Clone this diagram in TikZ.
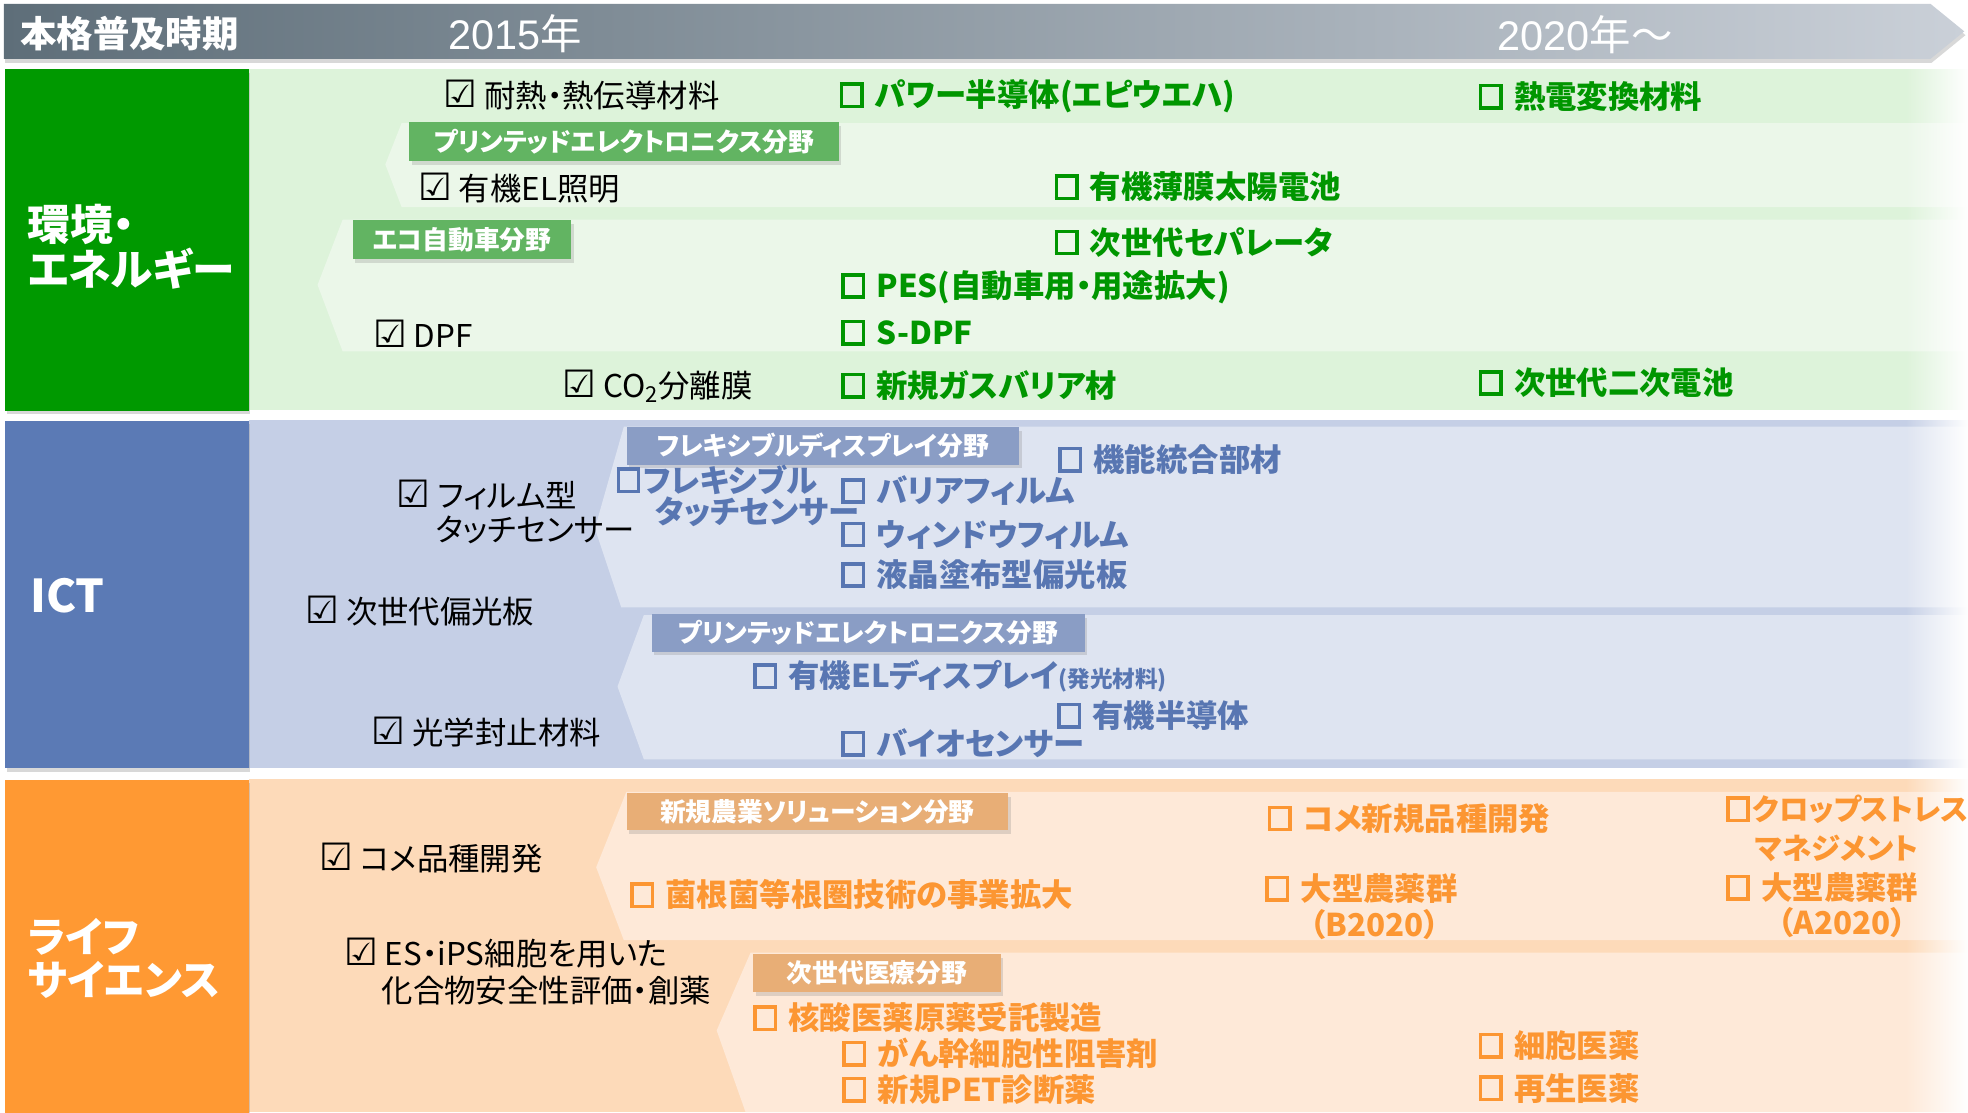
\documentclass[tikz,border=0pt]{standalone}
\usepackage{fontspec}
\newfontfamily\jp[RawFeature=+palt]{Noto Sans CJK JP}
\newfontfamily\dv{DejaVu Sans}
\newfontfamily\yr{Liberation Sans}
\usetikzlibrary{fadings,shadows}
\definecolor{barL}{RGB}{94,110,121}
\definecolor{barR}{RGB}{202,208,216}
\definecolor{gBox}{RGB}{0,153,0}
\definecolor{gBand}{RGB}{221,243,218}
\definecolor{gGrp}{RGB}{235,247,233}
\definecolor{gTag}{RGB}{98,180,98}
\definecolor{gTxt}{RGB}{0,150,0}
\definecolor{bBox}{RGB}{91,122,181}
\definecolor{bBand}{RGB}{197,207,230}
\definecolor{bGrp}{RGB}{222,228,241}
\definecolor{bTag}{RGB}{138,157,197}
\definecolor{bTxt}{RGB}{88,118,178}
\definecolor{oBox}{RGB}{255,153,51}
\definecolor{oBand}{RGB}{253,218,185}
\definecolor{oGrp}{RGB}{254,233,216}
\definecolor{oTag}{RGB}{232,174,118}
\definecolor{oTxt}{RGB}{252,150,50}
\tikzfading[name=fadeR, left color=transparent!100, right color=transparent!0]
\newcommand\chk{{\dv\fontsize{30}{30}\selectfont ☑}}
% open square (text box glyph) built from rules, in the current colour
\newcommand\obx{\raisebox{-1pt}{\vbox{\hrule height 2.8pt\hbox{\vrule width 2.8pt height 15pt\hskip 13.5pt\vrule width 2.8pt}\hrule height 2.8pt}}}
\newcommand\osp{\hspace{9pt}}
\begin{document}
\begin{tikzpicture}[x=1pt,y=-1pt,
  every node/.style={inner sep=0pt},
  blk/.style={anchor=west, text=black, font=\jp\fontsize{25}{30}\selectfont},
  itm/.style={anchor=west, text=#1, font=\jp\bfseries\fontsize{25}{30}\selectfont},
  tagbox/.style={anchor=north west, fill=#1, text=white, font=\jp\bfseries\fontsize{20.5}{22}\selectfont,
    drop shadow={opacity=0.25, shadow xshift=2pt, shadow yshift=-3pt}},
  sidebox/.style={anchor=north west, fill=#1, minimum width=194pt,
    drop shadow={opacity=0.3, shadow xshift=1pt, shadow yshift=-3pt}},
  sidetxt/.style={anchor=west, text=white, font=\jp\bfseries\fontsize{34}{36}\selectfont},
  yeartxt/.style={anchor=west, text=white, font=\yr\fontsize{33}{36}\selectfont},
]
\useasboundingbox (0,0) rectangle (1568,886);
\fill[white] (0,0) rectangle (1568,886);

% ---------- top bar ----------
\path[left color=barL, right color=barR, drop shadow={opacity=0.3, shadow xshift=1pt, shadow yshift=-3pt}]
  (3,3) -- (1538,3) -- (1565,25) -- (1538,47) -- (3,47) -- cycle;
\node[anchor=west, text=white, font=\jp\bfseries\fontsize{29}{32}\selectfont] (bar) at (16,27) {本格普及時期};
\node[yeartxt] (y2015) at (357,27) {2015{\jp 年}};
\node[yeartxt] (y2020) at (1193,28) {2020{\jp 年～}};

% ---------- bands ----------
\fill[gBand] (198,55) rectangle (1568,327);
\fill[bBand] (198,335) rectangle (1568,612);
\fill[oBand] (198,621) rectangle (1568,886);

% groups (chevrons)
\fill[gGrp] (320,98) -- (1568,98) -- (1568,165) -- (320,165) -- (307,131) -- cycle;
\fill[gGrp] (273,175) -- (1568,175) -- (1568,280) -- (273,280) -- (253,227) -- cycle;
\fill[bGrp] (497,340) -- (1568,340) -- (1568,484) -- (495,484) -- (474,421) -- cycle;
\fill[bGrp] (513,490) -- (1568,490) -- (1568,605) -- (513,605) -- (492,547) -- cycle;
\fill[oGrp] (499,631) -- (1568,631) -- (1568,749) -- (497,749) -- (475,691) -- cycle;
\fill[oGrp] (598,759) -- (1568,759) -- (1568,886) -- (594,886) -- (571,821) -- cycle;

% right-edge fade
\fill[white, path fading=fadeR] (1518,50) rectangle (1568,886);

% ---------- side boxes ----------
\node[sidebox=gBox, minimum height=272pt] (envbox) at (4,55) {};
\node[sidebox=bBox, minimum height=277pt] (ictbox) at (4,335) {};
\node[sidebox=oBox, minimum height=266pt] (lifebox) at (4,621) {};
\node[sidetxt] (env1) at (22,179) {環境・};
\node[sidetxt] (env2) at (22,214) {エネルギー};
\node[sidetxt, font=\jp\bfseries\fontsize{36}{40}\selectfont] (ict) at (24,475) {ICT};
\node[sidetxt, font=\jp\bfseries\fontsize{33}{36}\selectfont] (life1) at (22,746) {ライフ};
\node[sidetxt, font=\jp\bfseries\fontsize{33}{36}\selectfont] (life2) at (22,781) {サイエンス};

% ---------- tags ----------
\node[tagbox=gTag, minimum width=342pt, minimum height=31pt] (tgpe) at (326,97) {プリンテッドエレクトロニクス分野};
\node[tagbox=gTag, minimum width=174pt, minimum height=31pt] (tgeco) at (281,175) {エコ自動車分野};
\node[tagbox=bTag, minimum width=313pt, minimum height=30pt] (tbfd) at (499,340) {フレキシブルディスプレイ分野};
\node[tagbox=bTag, minimum width=345pt, minimum height=30pt] (tbpe) at (519,489) {プリンテッドエレクトロニクス分野};
\node[tagbox=oTag, minimum width=304pt, minimum height=29pt] (toag) at (499,632) {新規農業ソリューション分野};
\node[tagbox=oTag, minimum width=197pt, minimum height=30pt] (tomd) at (600,760) {次世代医療分野};

% ---------- environment items ----------
\node[blk] (g1) at (353,76) {\chk~耐熱・熱伝導材料};
\node[itm=gTxt] (g2) at (669,77) {\obx\osp パワー半導体(エピウエハ)};
\node[itm=gTxt] (g3) at (1178,77) {\obx\osp 熱電変換材料};
\node[blk] (g4) at (333,150) {\chk~有機EL照明};
\node[itm=gTxt] (g5) at (840,149) {\obx\osp 有機薄膜太陽電池};
\node[itm=gTxt] (g6) at (840,193) {\obx\osp 次世代セパレータ};
\node[itm=gTxt] (g7) at (670,229) {\obx\osp PES(自動車用・用途拡大)};
\node[blk] (g8) at (297,266) {\chk~DPF};
\node[itm=gTxt] (g9) at (670,265) {\obx\osp S-DPF};
\node[blk] (g10) at (448,308) {\chk~CO\textsubscript{2}分離膜};
\node[itm=gTxt] (g11) at (670,307) {\obx\osp 新規ガスバリア材};
\node[itm=gTxt] (g12) at (1178,305) {\obx\osp 次世代二次電池};

% ---------- ICT items ----------
\node[blk] (b1) at (316,394) {\chk~フィルム型};
\node[blk] (b1b) at (347,422) {タッチセンサー};
\node[itm=bTxt] (b2) at (491,382) {\obx\hspace{2pt}フレキシブル};
\node[itm=bTxt] (b2b) at (522,408) {タッチセンサー};
\node[itm=bTxt] (b3) at (843,366) {\obx\osp 機能統合部材};
\node[itm=bTxt] (b4) at (670,391) {\obx\osp バリアフィルム};
\node[itm=bTxt] (b5) at (670,426) {\obx\osp ウィンドウフィルム};
\node[itm=bTxt] (b6) at (670,458) {\obx\osp 液晶塗布型偏光板};
\node[blk] (b7) at (243,487) {\chk~次世代偏光板};
\node[itm=bTxt] (b8) at (600,539) {\obx\osp 有機ELディスプレイ{\fontsize{18}{20}\selectfont(発光材料)}};
\node[itm=bTxt] (b9) at (842,570) {\obx\osp 有機半導体};
\node[blk] (b10) at (296,583) {\chk~光学封止材料};
\node[itm=bTxt] (b11) at (670,592) {\obx\osp バイオセンサー};

% ---------- life science items ----------
\node[blk] (o1) at (254,684) {\chk~コメ品種開発};
\node[blk] (o2) at (274,759) {\chk~ES・iPS細胞を用いた};
\node[blk] (o2b) at (304,789) {化合物安全性評価・創薬};
\node[itm=oTxt] (o3) at (502,713) {\obx\osp 菌根菌等根圏技術の事業拡大};
\node[itm=oTxt] (o4) at (1010,652) {\obx\osp コメ新規品種開発};
\node[itm=oTxt] (o5) at (1008,708) {\obx\osp 大型農薬群};
\node[itm=oTxt, anchor=center] (o5b) at (1095,737) {（B2020）};
\node[itm=oTxt, font=\jp\bfseries\fontsize{23.5}{30}\selectfont] (o6) at (1375,645) {\obx\hspace{2pt}クロップストレス};
\node[itm=oTxt, font=\jp\bfseries\fontsize{23.5}{30}\selectfont] (o6b) at (1398,676) {マネジメント};
\node[itm=oTxt] (o7) at (1375,707) {\obx\osp 大型農薬群};
\node[itm=oTxt, anchor=center] (o7b) at (1468,735) {（A2020）};
\node[itm=oTxt] (o8) at (600,811) {\obx\osp 核酸医薬原薬受託製造};
\node[itm=oTxt] (o9) at (671,839) {\obx\osp がん幹細胞性阻害剤};
\node[itm=oTxt] (o10) at (671,868) {\obx\osp 新規PET診断薬};
\node[itm=oTxt] (o11) at (1178,833) {\obx\osp 細胞医薬};
\node[itm=oTxt] (o12) at (1178,867) {\obx\osp 再生医薬};
\end{tikzpicture}
\end{document}
